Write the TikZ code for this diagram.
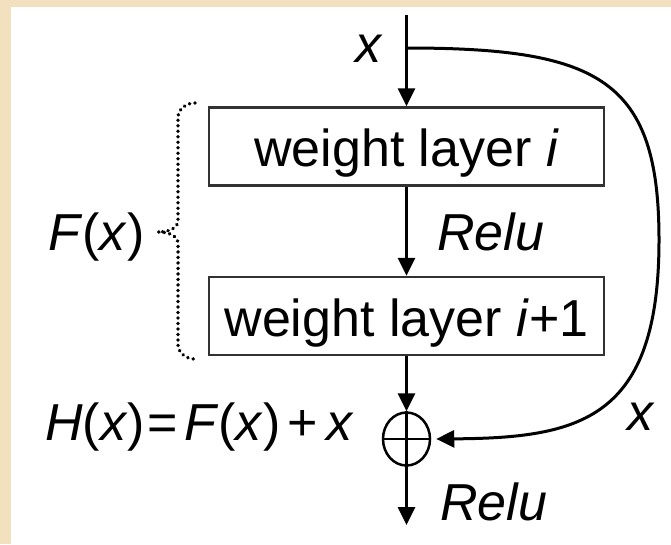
\documentclass[tikz,border=0pt]{standalone}
\usepackage{fontspec}
\setmainfont{Liberation Sans}
\usetikzlibrary{arrows.meta,shapes.geometric,decorations.markings}
\definecolor{beige}{RGB}{243,224,190}
\definecolor{boxline}{RGB}{50,50,50}
\tikzset{
  lbl/.style={inner sep=0pt, anchor=base west, font=\fontsize{52}{60}\selectfont},
  layerbox/.style={draw=boxline, line width=2.5pt, minimum width=395pt, minimum height=78pt,
    inner sep=0pt, text height=49.5pt, text depth=9.5pt, font=\fontsize{52}{60}\selectfont},
  conn/.style={line width=3pt, -{Triangle[length=18pt,width=17pt]}},
  brace/.style={decoration={markings, mark=between positions 0 and 1 step 5.5pt with {\fill (0,0) circle (1.9pt);}}, decorate},
}
\begin{document}
\begin{tikzpicture}[x=1pt,y=-1pt]
\fill[beige] (0,0) rectangle (671,544);
\fill[white] (11,7) rectangle (671,544);
\useasboundingbox (0,0) rectangle (671,544);

\node[layerbox] (b1) at (406.5,146.5) {weight layer \textit{i}};
\node[layerbox] (b2) at (406.5,316) {weight layer \textit{i}+1};
\node[draw, ellipse, line width=2.5pt, minimum width=47pt, minimum height=53pt, inner sep=0pt] (plus) at (406.5,439) {};
\draw[line width=2.2pt] (plus.north) -- (plus.south) (plus.west) -- (plus.east);

\coordinate (in) at (406.5,15);
\coordinate (br) at (406.5,48);
\coordinate (out) at (406.5,525);

\draw[conn] (in) -- (b1.north);
\draw[conn] (b1.south) -- (b2.north);
\draw[conn] (b2.south) -- (plus.north);
\draw[conn] (plus.south) -- (out);
\draw[conn, shorten >=5pt] (br) .. controls (600,48) and (659,80) .. (659,240)
   .. controls (659,420) and (580,438) .. (plus.east);

\node[lbl] (xtop) at (355,62) {\textit{x}};
\node[lbl] (relu1) at (437,250) {\textit{Relu}};
\node[lbl] (relu2) at (440,520) {\textit{Relu}};
\node[lbl] (xright) at (627,430) {\textit{x}};
\node[lbl] (fx) at (48,250) {\textit{F}(\textit{x})};
\node[lbl] (hx) at (45,440) {\textit{H}(\textit{x})\kern3pt=\kern6pt\textit{F}(\textit{x})\kern7pt+\kern8pt\textit{x}};

\path[brace] (195,103) to[out=180,in=90] (178,118) -- (178,220) to[out=-90,in=0] (158,232)
  to[out=0,in=90] (178,244) -- (178,344) to[out=-90,in=180] (195,359);
\end{tikzpicture}
\end{document}
